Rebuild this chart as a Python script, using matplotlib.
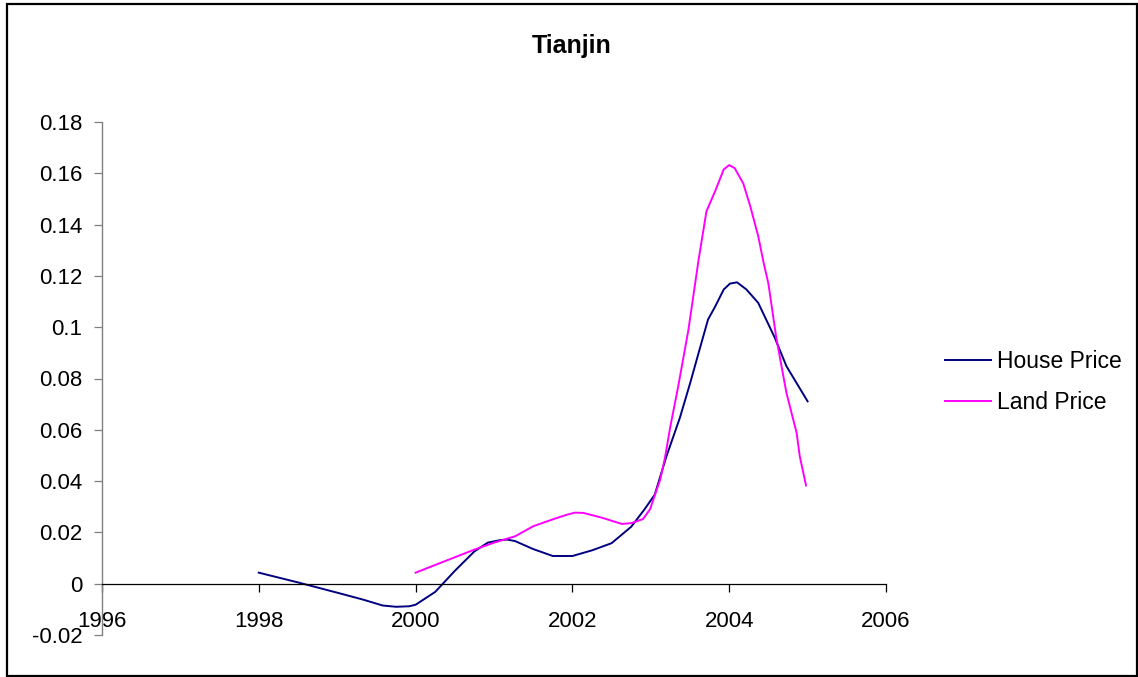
import matplotlib
matplotlib.use("Agg")
import matplotlib.pyplot as plt
from matplotlib.patches import Rectangle

plt.rcParams['font.family'] = ['Liberation Sans', 'DejaVu Sans']

title = "Tianjin"

house_years = [1998.00, 1998.50, 1999.00, 1999.33, 1999.58, 1999.75, 1999.92, 2000.00,
               2000.25, 2000.50, 2000.75, 2000.92, 2001.08, 2001.17, 2001.27, 2001.50,
               2001.75, 2002.00, 2002.25, 2002.50, 2002.75, 2002.92, 2003.05, 2003.20,
               2003.37, 2003.50, 2003.61, 2003.73, 2003.82, 2003.93, 2004.01, 2004.10,
               2004.22, 2004.37, 2004.58, 2004.73, 2005.00]
house_price = [0.0043, 0.0005, -0.0035, -0.0062, -0.0085, -0.0090, -0.0088, -0.0082,
               -0.0032, 0.0050, 0.0126, 0.0160, 0.0170, 0.0172, 0.0166, 0.0135,
               0.0108, 0.0108, 0.0130, 0.0158, 0.0222, 0.0290, 0.0347, 0.0497,
               0.0646, 0.0780, 0.0900, 0.1030, 0.1080, 0.1147, 0.1170, 0.1175,
               0.1147, 0.1095, 0.0960, 0.0848, 0.0711]

land_years = [2000.00, 2000.25, 2000.50, 2000.75, 2001.00, 2001.27, 2001.50, 2001.76,
              2001.92, 2002.03, 2002.14, 2002.38, 2002.63, 2002.75, 2002.90, 2002.99,
              2003.12, 2003.18, 2003.25, 2003.35, 2003.48, 2003.61, 2003.71, 2003.82,
              2003.93, 2004.00, 2004.07, 2004.18, 2004.27, 2004.37, 2004.44, 2004.50,
              2004.60, 2004.73, 2004.86, 2004.90, 2004.98]
land_price = [0.0043, 0.0073, 0.0103, 0.0133, 0.0160, 0.0185, 0.0224, 0.0252,
              0.0268, 0.0277, 0.0276, 0.0257, 0.0233, 0.0236, 0.0252, 0.0290,
              0.0406, 0.0490, 0.0614, 0.0770, 0.0990, 0.1264, 0.1452, 0.1530,
              0.1615, 0.1632, 0.1620, 0.1560, 0.1470, 0.1355, 0.1250, 0.1170,
              0.0960, 0.0744, 0.0588, 0.0497, 0.0383]

x_ticks = [1996, 1998, 2000, 2002, 2004, 2006]
y_ticks = [-0.02, 0, 0.02, 0.04, 0.06, 0.08, 0.1, 0.12, 0.14, 0.16, 0.18]
y_labels = ["-0.02", "0", "0.02", "0.04", "0.06", "0.08", "0.1", "0.12", "0.14", "0.16", "0.18"]

W, H = 1138, 677
fig = plt.figure(figsize=(W / 100, H / 100), dpi=100)
fig.patch.set_facecolor('white')

# chart frame
fig.patches.append(Rectangle((7 / W, 1 - 676 / H), 1130 / W, 672 / H,
                             transform=fig.transFigure, fill=False,
                             edgecolor='black', linewidth=1.6))

ax = fig.add_axes([102 / W, 1 - 635 / H, 784 / W, 513 / H])
ax.plot(house_years, house_price, color='#000080', linewidth=1.4, label='House Price')
ax.plot(land_years, land_price, color='#FF00FF', linewidth=1.4, label='Land Price')

ax.set_xlim(1996, 2006)
ax.set_ylim(-0.02, 0.18)
ax.set_xticks(x_ticks)
ax.set_xticklabels([str(v) for v in x_ticks])
ax.set_yticks(y_ticks)
ax.set_yticklabels(y_labels)

for s in ['top', 'right']:
    ax.spines[s].set_visible(False)
ax.spines['left'].set_color('#808080')
ax.spines['left'].set_linewidth(1.0)
ax.spines['bottom'].set_position(('data', 0))
ax.spines['bottom'].set_color('black')
ax.spines['bottom'].set_linewidth(0.9)

ax.tick_params(axis='y', direction='out', length=6, width=0.9, color='#808080',
               pad=8, labelsize=16, labelcolor='black')
ax.tick_params(axis='x', direction='out', length=5.5, width=0.9, color='black',
               pad=14, labelsize=16, labelcolor='black')

fig.text(572 / W, 1 - 46 / H, title, ha='center', va='center',
         fontsize=18, fontweight='bold')

fig.legend(loc='center left', bbox_to_anchor=(945 / W, 1 - 382 / H),
           frameon=False, fontsize=16.5, handlelength=2.0, handletextpad=0.26,
           labelspacing=0.78, borderpad=0, borderaxespad=0)

fig.savefig('out.png', dpi=100, facecolor='white')
